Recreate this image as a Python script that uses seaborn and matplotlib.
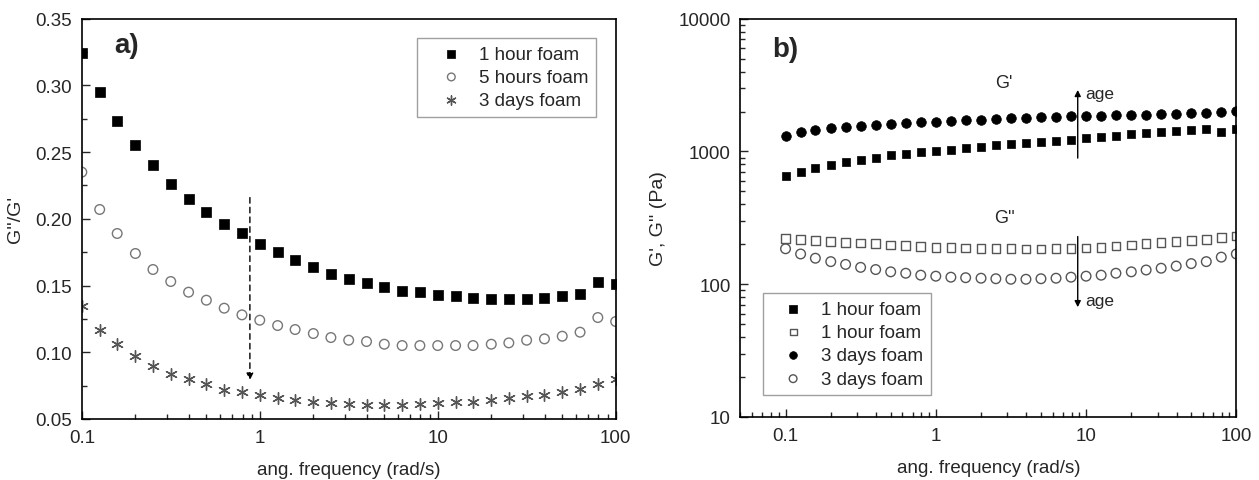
import seaborn as sns
import pandas as pd
import matplotlib.pyplot as plt
import numpy as np
from matplotlib.ticker import FuncFormatter, LogLocator, MultipleLocator, NullFormatter

# frequencies, 10 points per decade from 0.1 to 100 rad/s
FREQ = [0.1, 0.126, 0.158, 0.2, 0.251, 0.316, 0.398, 0.501, 0.631, 0.794,
        1.0, 1.26, 1.58, 2.0, 2.51, 3.16, 3.98, 5.01, 6.31, 7.94,
        10.0, 12.6, 15.8, 20.0, 25.1, 31.6, 39.8, 50.1, 63.1, 79.4, 100.0]

# panel a) tan delta
TAN_1H = [0.324, 0.295, 0.273, 0.255, 0.240, 0.226, 0.215, 0.205, 0.196, 0.189,
          0.181, 0.175, 0.169, 0.164, 0.159, 0.155, 0.152, 0.149, 0.146, 0.145,
          0.143, 0.142, 0.141, 0.140, 0.140, 0.140, 0.141, 0.142, 0.144, 0.153, 0.151]
TAN_5H = [0.235, 0.207, 0.189, 0.174, 0.162, 0.153, 0.145, 0.139, 0.133, 0.128,
          0.124, 0.120, 0.117, 0.114, 0.111, 0.109, 0.108, 0.106, 0.105, 0.105,
          0.105, 0.105, 0.105, 0.106, 0.107, 0.109, 0.110, 0.112, 0.115, 0.126, 0.123]
TAN_3D = [0.135, 0.117, 0.106, 0.097, 0.090, 0.084, 0.080, 0.076, 0.072, 0.070,
          0.068, 0.066, 0.064, 0.063, 0.062, 0.061, 0.0605, 0.0605, 0.0605, 0.061,
          0.062, 0.0625, 0.063, 0.064, 0.0655, 0.067, 0.068, 0.070, 0.0725, 0.076, 0.080]

# panel b) moduli (Pa)
GP_1H = [653, 705, 746, 796, 830, 865, 900, 933, 960, 983,
         1006, 1030, 1054, 1085, 1111, 1130, 1150, 1170, 1191, 1219,
         1255, 1285, 1315, 1355, 1378, 1394, 1427, 1461, 1479, 1394, 1487]
GPP_1H = [221, 217, 213, 210, 207, 204, 202, 198, 196, 193,
          190, 189, 187, 186, 186, 185, 184, 184, 185, 186,
          188, 190, 194, 197, 202, 206, 209, 213, 218, 224, 231]
GP_3D = [1315, 1394, 1461, 1513, 1540, 1567, 1585, 1614, 1642, 1660,
         1680, 1700, 1719, 1740, 1760, 1782, 1790, 1803, 1824, 1835,
         1845, 1855, 1876, 1886, 1898, 1921, 1932, 1955, 1966, 2000, 2025]
GPP_3D = [185, 169, 157, 148, 141, 134, 129, 124, 121, 117,
          115, 113, 112, 111, 110, 109, 109, 110, 111, 113,
          115, 117, 121, 124, 128, 132, 137, 143, 148, 160, 169]

FONT = 13.5

sns.set_style("ticks")
plt.rcParams['font.family'] = ['Liberation Sans', 'DejaVu Sans']
plt.rcParams['axes.linewidth'] = 1.2

fig = plt.figure(figsize=(12.59, 4.81), dpi=100)
ax1 = fig.add_axes([0.065, 0.127, 0.424, 0.832])
ax2 = fig.add_axes([0.588, 0.131, 0.394, 0.828])

# ---- a)
sns.scatterplot(x=FREQ, y=TAN_1H, ax=ax1, marker="s", s=42, color="black",
                edgecolor="black", linewidth=0.5, label="1 hour foam")
sns.scatterplot(x=FREQ, y=TAN_5H, ax=ax1, marker="o", s=48, facecolor="none",
                edgecolor="#777777", linewidth=1.0, label="5 hours foam")
sns.scatterplot(x=FREQ, y=TAN_3D, ax=ax1, marker=(6, 2, 0), s=70, color="#555555",
                linewidth=1.0, label="3 days foam")

ax1.set_xscale("log")
ax1.set_xlim(0.1, 100)
ax1.set_ylim(0.05, 0.35)
ax1.yaxis.set_major_locator(MultipleLocator(0.05))
ax1.yaxis.set_minor_locator(MultipleLocator(0.025))
ax1.yaxis.set_major_formatter(FuncFormatter(lambda v, p: "%.2f" % v))
ax1.set_xlabel("ang. frequency (rad/s)", fontsize=FONT, labelpad=11)
ax1.set_ylabel("G''/G'", fontsize=FONT + 0.5, labelpad=8)

ax1.annotate("", xy=(0.88, 0.077), xytext=(0.88, 0.218),
             arrowprops=dict(arrowstyle="-|>", linestyle=(0, (4, 3)), color="black",
                             lw=1.0, mutation_scale=10))
ax1.text(0.153, 0.33, "a)", fontsize=20, fontweight="bold", va="center")

leg1 = ax1.legend(loc="upper right", bbox_to_anchor=(0.964, 0.952), fontsize=13.5,
                  frameon=True, fancybox=False, edgecolor="#888888", borderaxespad=0,
                  handlelength=2.9, handletextpad=0.05, borderpad=0.4,
                  labelspacing=0.33, markerscale=0.8)
leg1.get_frame().set_linewidth(1.0)

# ---- b)
sns.scatterplot(x=FREQ, y=GP_1H, ax=ax2, marker="s", s=40, color="black",
                edgecolor="black", linewidth=0.5, label="1 hour foam")
sns.scatterplot(x=FREQ, y=GPP_1H, ax=ax2, marker="s", s=38, facecolor="none",
                edgecolor="#555555", linewidth=1.0, label="1 hour foam")
sns.scatterplot(x=FREQ, y=GP_3D, ax=ax2, marker="o", s=48, color="black",
                edgecolor="black", linewidth=0.5, label="3 days foam")
sns.scatterplot(x=FREQ, y=GPP_3D, ax=ax2, marker="o", s=48, facecolor="none",
                edgecolor="#555555", linewidth=1.0, label="3 days foam")

ax2.set_xscale("log")
ax2.set_yscale("log")
ax2.set_xlim(0.05, 100)
ax2.set_ylim(10, 10000)
ax2.yaxis.set_major_formatter(FuncFormatter(lambda v, p: "%d" % v))
ax2.yaxis.set_minor_formatter(NullFormatter())
ax2.yaxis.set_minor_locator(LogLocator(base=10, subs=np.arange(2, 10)))
ax2.set_xlabel("ang. frequency (rad/s)", fontsize=FONT, labelpad=11)
ax2.set_ylabel("G', G'' (Pa)", fontsize=FONT + 0.5, labelpad=8)

ax2.text(0.082, 5900, "b)", fontsize=20, fontweight="bold", va="center")
ax2.text(2.85, 3300, "G'", fontsize=13, ha="center", va="center")
ax2.text(2.85, 320, "G''", fontsize=13, ha="center", va="center")
ax2.annotate("", xy=(8.8, 3050), xytext=(8.8, 850),
             arrowprops=dict(arrowstyle="-|>", color="black", lw=1.0, mutation_scale=9))
ax2.annotate("", xy=(8.8, 64), xytext=(8.8, 240),
             arrowprops=dict(arrowstyle="-|>", color="black", lw=1.0, mutation_scale=9))
ax2.text(9.9, 2750, "age", fontsize=12.5, va="center")
ax2.text(9.9, 76, "age", fontsize=12.5, va="center")

leg2 = ax2.legend(loc="lower left", bbox_to_anchor=(0.046, 0.055), fontsize=13.5,
                  frameon=True, fancybox=False, edgecolor="#888888", borderaxespad=0,
                  handlelength=2.4, handletextpad=0.3, borderpad=0.4,
                  labelspacing=0.33, markerscale=0.8)
leg2.get_frame().set_linewidth(1.0)

# ticks: inside, bottom and left only, minor ticks shown
for ax in (ax1, ax2):
    ax.xaxis.set_major_formatter(FuncFormatter(lambda v, p: "%g" % v))
    ax.xaxis.set_minor_formatter(NullFormatter())
    ax.xaxis.set_minor_locator(LogLocator(base=10, subs=np.arange(2, 10)))
    ax.tick_params(which="major", direction="in", length=6, width=1.0,
                   labelsize=FONT, top=False, right=False, pad=7)
    ax.tick_params(which="minor", direction="in", length=3.5, width=1.0,
                   top=False, right=False)
    for sp in ax.spines.values():
        sp.set_visible(True)
        sp.set_color("black")

fig.savefig("out.png", dpi=100)
